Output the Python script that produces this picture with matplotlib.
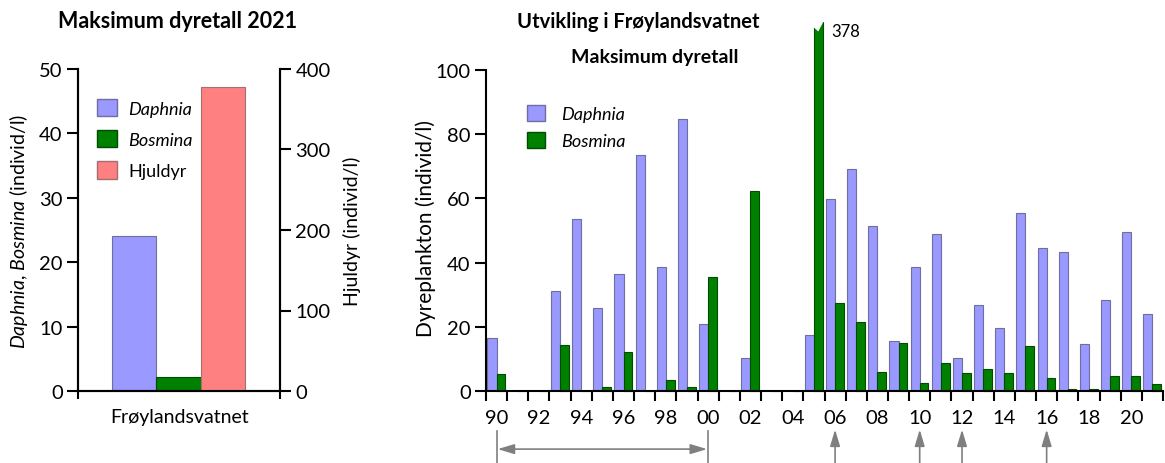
import numpy as np
import matplotlib
matplotlib.use('Agg')
import matplotlib.pyplot as plt
from matplotlib.patches import Polygon, Patch

plt.rcParams['font.family'] = ['Lato', 'DejaVu Sans']
plt.rcParams['mathtext.fontset'] = 'custom'
plt.rcParams['mathtext.it'] = 'Lato:italic'
plt.rcParams['mathtext.rm'] = 'Lato'

# left panel, 2021
lake = 'Frøylandsvatnet'
daphnia_2021 = 24.0
bosmina_2021 = 2.2
hjuldyr_2021 = 378.0

# right panel, 1990-2021 (0 = no bar)
years = np.arange(1990, 2022)
daphnia = [16.5, 0, 0, 31.0, 53.5, 26.0, 36.6, 73.5, 38.6, 84.7,
           21.0, 0, 10.2, 0, 0, 17.6, 59.8, 69.1, 51.4, 15.5,
           38.7, 48.9, 10.3, 26.7, 19.7, 55.6, 44.5, 43.3, 14.7, 28.2,
           49.5, 23.9]
bosmina = [5.4, 0, 0, 14.2, 0, 1.1, 12.3, 0.1, 3.3, 1.1,
           35.6, 0, 62.2, 0, 0, 378, 27.4, 21.6, 6.0, 15.1,
           2.4, 8.8, 5.6, 6.7, 5.6, 14.0, 4.2, 0.6, 0.7, 4.6,
           4.6, 2.2]
period_arrow = (1990, 2000)
event_years = [2006, 2010, 2012, 2016]

c_daph = '#9999ff'
c_bosm = '#008000'
c_hjul = '#ff8080'
e_daph = '#6e6ea0'
e_bosm = '#004d00'
e_hjul = '#a07070'
grey = '#7f7f7f'

W, H = 1165, 464
fig = plt.figure(figsize=(W / 100, H / 100), dpi=100)


def fx(px):
    return px / W


def fy(py):
    return 1 - py / H


# ---- left panel ----
ax1 = fig.add_axes([fx(78), fy(392), fx(280 - 78), (392 - 70) / H])
ax2 = ax1.twinx()
ax1.bar(0, daphnia_2021, width=1, color=c_daph, edgecolor=e_daph, lw=0.8)
ax1.bar(1, bosmina_2021, width=1, color=c_bosm, edgecolor=e_bosm, lw=0.8)
ax2.bar(2, hjuldyr_2021, width=1, color=c_hjul, edgecolor=e_hjul, lw=0.8)
ax1.set_xlim(-1.27, 3.29)
ax1.set_ylim(0, 50)
ax2.set_ylim(0, 400)
ax1.set_yticks(range(0, 51, 10))
ax2.set_yticks(range(0, 401, 100))
ax1.set_xticks([-1.27, 3.29])
ax1.set_xticklabels(['', ''])
for a in (ax1, ax2):
    a.spines['top'].set_visible(False)
    for s in a.spines.values():
        s.set_linewidth(1.5)
    a.tick_params(width=1.5, length=8, labelsize=14.5, pad=3)
ax1.tick_params(axis='x', length=6)
ax1.set_ylabel(r'$\mathit{Daphnia}$, $\mathit{Bosmina}$ (individ/l)', fontsize=14)
ax1.yaxis.set_label_coords(-0.24, 0.5)
ax2.set_ylabel('Hjuldyr (individ/l)', fontsize=14)
ax2.yaxis.set_label_coords(1.31, 0.5)
ax1.text(0.505, -0.08, lake, transform=ax1.transAxes, ha='center', va='center',
         fontsize=14)
handles = [Patch(facecolor=c_daph, edgecolor=e_daph),
           Patch(facecolor=c_bosm, edgecolor=e_bosm),
           Patch(facecolor=c_hjul, edgecolor=e_hjul)]
leg = ax1.legend(handles, ['Daphnia', 'Bosmina', 'Hjuldyr'], loc='upper left',
                 bbox_to_anchor=(0.06, 0.93), frameon=False, fontsize=13,
                 handlelength=1.1, handleheight=1.1, labelspacing=0.75,
                 handletextpad=0.6, borderaxespad=0)
for t in leg.get_texts()[:2]:
    t.set_style('italic')

fig.text(fx(178), fy(22), 'Maksimum dyretall 2021', ha='center', va='center',
         fontsize=15.5, fontweight='bold')

# ---- right panel ----
ax = fig.add_axes([fx(486), fy(392), fx(1163 - 486), (392 - 71) / H])
cap = 115
bos_drawn = np.minimum(bosmina, cap)
ax.bar(years, daphnia, width=-0.43, align='edge', color=c_daph,
       edgecolor=e_daph, lw=0.8)
bars = ax.bar(years, bos_drawn, width=0.41, align='edge', color=c_bosm,
              edgecolor=e_bosm, lw=0.8, clip_on=False)
ax.set_xlim(years[0] - 0.5, years[-1] + 0.5)
ax.set_ylim(0, 100)
ax.set_yticks(range(0, 101, 20))
ax.set_xticks(years[::2])
ax.set_xticklabels([f'{y % 100:02d}' for y in years[::2]])
ax.set_xticks(np.arange(years[0] - 0.5, years[-1] + 1), minor=True)
ax.tick_params(axis='x', which='major', length=0, labelsize=14.5, pad=13)
ax.tick_params(axis='x', which='minor', length=7, width=1.5)
ax.tick_params(axis='y', length=8, width=1.5, labelsize=14.5, pad=3)
for s in ['top', 'right']:
    ax.spines[s].set_visible(False)
for s in ['left', 'bottom']:
    ax.spines[s].set_linewidth(1.5)
ax.set_ylabel('Dyreplankton (individ/l)', fontsize=15)
ax.yaxis.set_label_coords(-0.074, 0.51)

# break mark on the off-scale bar
for b, v in zip(bars, bosmina):
    if v > cap:
        x0, w = b.get_x(), b.get_width()
        ax.add_patch(Polygon([(x0 - 0.05, cap + 1), (x0 - 0.05, cap - 1.5),
                              (x0 + w / 2, cap - 3), (x0 + w + 0.05, cap + 0.2),
                              (x0 + w + 0.05, cap + 1)],
                             closed=True, facecolor='white', edgecolor='none',
                             clip_on=False, zorder=3))
        ax.text(x0 + w + 0.42, cap - 3, f'{v:.0f}', fontsize=12, ha='left',
                va='center')

# arrows below the axis
tr = ax.get_xaxis_transform()
for x in period_arrow:
    ax.plot([x, x], [-0.125, -0.225], color=grey, lw=1.2, transform=tr,
            clip_on=False)
ax.annotate('', xy=(period_arrow[0] + 0.05, -0.181), xytext=(period_arrow[1] - 0.05, -0.181),
            xycoords=tr, textcoords=tr,
            arrowprops=dict(arrowstyle='<|-|>,head_width=0.3,head_length=1.0',
                            color=grey, lw=1.2,
                            mutation_scale=10, shrinkA=0, shrinkB=0))
for x in event_years:
    ax.annotate('', xy=(x, -0.12), xytext=(x, -0.23), xycoords=tr,
                textcoords=tr,
                arrowprops=dict(arrowstyle='-|>,head_width=0.3,head_length=1.0',
                                color=grey, lw=1.2,
                                mutation_scale=10, shrinkA=0, shrinkB=0))

h2 = [Patch(facecolor=c_daph, edgecolor=e_daph),
      Patch(facecolor=c_bosm, edgecolor=e_bosm)]
leg2 = ax.legend(h2, ['Daphnia', 'Bosmina'], loc='upper left',
                 bbox_to_anchor=(0.05, 0.915), frameon=False, fontsize=13,
                 handlelength=1.0, handleheight=1.0, labelspacing=0.55,
                 handletextpad=0.9, borderaxespad=0)
for t in leg2.get_texts():
    t.set_style('italic')

fig.text(fx(638), fy(22), 'Utvikling i Frøylandsvatnet', ha='center',
         va='center', fontsize=14.5, fontweight='bold')
fig.text(fx(655), fy(58), 'Maksimum dyretall', ha='center', va='center',
         fontsize=14, fontweight='bold')

fig.savefig('out.png', dpi=100)
